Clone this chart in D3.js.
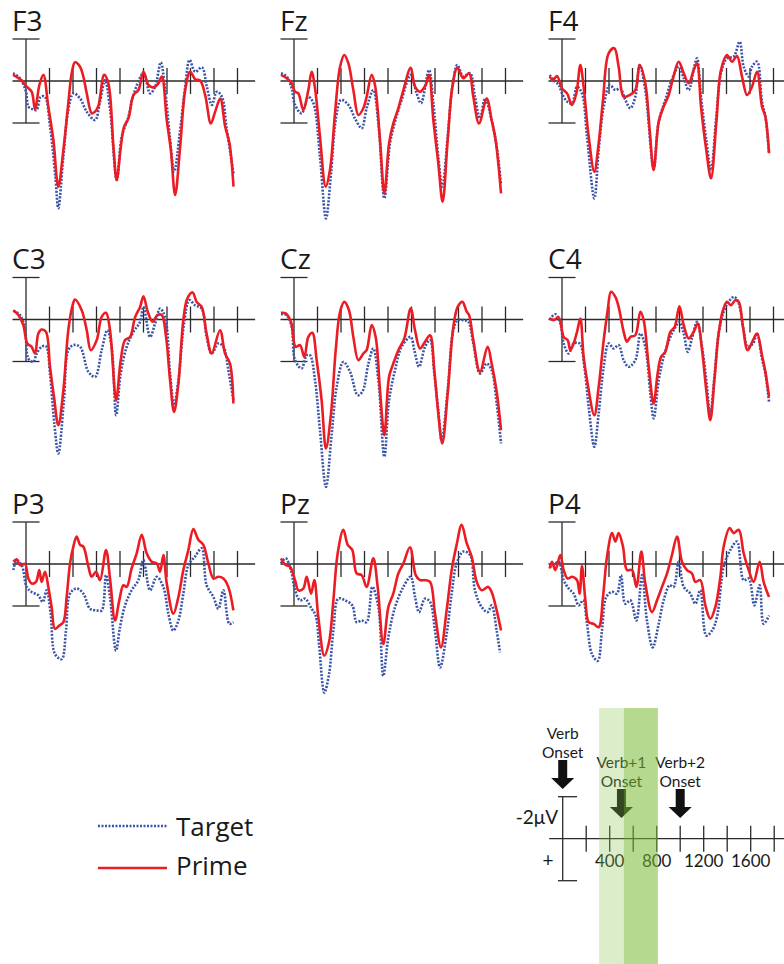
<!DOCTYPE html>
<html>
<head>
<meta charset="utf-8">
<script src="https://cdn.jsdelivr.net/npm/d3@7"></script>
<style>
body { margin: 0; background: #fff; }
svg text { font-family: "Open Sans", sans-serif; fill: #1a1a1a; }
svg text.key { font-family: Lato, "Open Sans", sans-serif; }
</style>
</head>
<body>
<svg id="chart" width="784" height="964"></svg>
<script>
// electrode layout, read row by row
const electrodes = ["F3", "Fz", "F4", "C3", "Cz", "C4", "P3", "Pz", "P4"];

// [time ms, amplitude µV]  (negative plotted up)
const f3Target = [[-110,-0.37],[-50,-0.13],[0,0.51],[20,1.22],[60,1.35],[90,1.38],[125,0.75],[160,0.75],[205,2.17],[250,4.56],[275,6.06],[318,3.6],[360,1.38],[403,0.59],[460,0.83],[517,1.46],[588,1.86],[630,0.98],[673,-0.05],[716,1.38],[772,4.71],[815,2.65],[872,1.7],[914,0.67],[1000,-0.37],[1056,0.59],[1099,0.27],[1147,-0.89],[1184,0.43],[1227,2.81],[1261,4.32],[1312,2.33],[1355,0.27],[1392,-1.0],[1440,-0.44],[1497,-0.65],[1539,0.27],[1582,1.14],[1624,0.51],[1667,0.75],[1709,2.33],[1766,4.4]];
const f3Prime = [[-110,-0.29],[-50,-0.08],[6,0.27],[48,0.51],[77,1.35],[114,0.19],[148,-0.29],[190,1.22],[233,2.81],[275,5.03],[318,3.29],[360,1.06],[389,-0.37],[417,-0.89],[460,-0.68],[488,-0.21],[517,0.59],[560,1.54],[588,1.46],[616,1.19],[665,-0.29],[701,0.11],[744,3.13],[772,4.71],[807,3.13],[835,2.17],[872,1.78],[914,0.67],[957,0.43],[1000,-0.44],[1042,0.19],[1085,0.3],[1127,0.11],[1156,-0.21],[1198,1.86],[1233,3.29],[1269,5.43],[1312,3.13],[1355,0.43],[1397,-0.44],[1440,-0.08],[1482,-0.02],[1525,0.67],[1573,2.02],[1610,1.46],[1653,0.83],[1695,2.17],[1732,2.97],[1766,5.03]];

const fzTarget = [[-111,-0.37],[-62,-0.21],[-20,0.35],[9,1.14],[65,1.54],[122,0.75],[165,1.06],[221,3.6],[272,6.54],[315,4.4],[355,1.86],[400,0.9],[463,1.14],[519,1.78],[576,2.25],[618,1.3],[675,0.43],[718,2.02],[769,5.59],[817,2.97],[860,1.94],[916,0.9],[993,-0.29],[1044,0.59],[1081,1.06],[1149,-0.52],[1186,1.06],[1228,3.6],[1262,5.03],[1308,2.65],[1348,0.27],[1390,-0.76],[1441,-0.21],[1498,-0.37],[1540,0.75],[1583,1.78],[1626,0.83],[1682,1.86],[1725,3.13],[1762,4.95]];
const fzPrime = [[-111,-0.29],[-62,-0.13],[-20,0.11],[9,0.51],[37,0.59],[79,1.38],[122,0.43],[150,-0.44],[179,0.35],[221,2.65],[270,5.03],[306,4.24],[349,1.54],[392,-0.68],[428,-1.24],[463,-0.84],[505,0.43],[548,1.62],[590,1.3],[618,0.75],[661,-0.29],[689,0.19],[732,2.81],[769,5.35],[809,2.97],[845,2.02],[888,1.3],[931,0.43],[993,-0.63],[1030,0.27],[1072,0.51],[1121,0.19],[1149,-0.29],[1186,1.86],[1228,3.92],[1265,5.75],[1308,2.81],[1348,0.27],[1390,-0.63],[1441,-0.13],[1490,-0.37],[1526,0.75],[1575,2.02],[1640,0.83],[1682,1.86],[1716,2.81],[1762,5.35]];

const f4Target = [[-105,-0.29],[-71,-0.05],[-28,0.19],[0,0.59],[43,0.98],[85,1.06],[128,0.27],[170,0.59],[213,2.65],[275,5.59],[312,3.29],[355,1.22],[406,0.19],[454,0.43],[496,0.35],[539,0.9],[582,1.3],[624,0.75],[661,-0.76],[709,0.43],[780,4.16],[823,1.94],[879,0.9],[945,-0.21],[993,-0.68],[1036,-0.13],[1078,0.43],[1126,-0.68],[1149,-1.08],[1183,0.75],[1228,2.81],[1268,4.24],[1313,1.7],[1353,-0.37],[1404,-1.08],[1461,-1.16],[1512,-1.87],[1546,-0.68],[1589,-0.21],[1617,-0.68],[1660,-0.92],[1702,0.98],[1731,1.7],[1762,3.44]];
const f4Prime = [[-105,-0.21],[-77,-0.05],[-43,-0.24],[0,0.35],[43,0.59],[85,1.14],[122,0.59],[156,-0.76],[184,0.27],[227,2.65],[275,4.32],[312,2.97],[349,0.9],[397,-1.32],[445,-1.56],[482,-0.68],[525,0.75],[576,0.67],[624,0.43],[661,-0.76],[709,0.11],[746,2.33],[780,4.24],[823,1.94],[865,1.22],[908,0.67],[945,-0.13],[993,-0.92],[1036,-0.37],[1078,0.11],[1121,-0.52],[1149,-0.84],[1183,1.22],[1228,3.29],[1268,4.63],[1313,2.02],[1353,-0.52],[1404,-1.24],[1447,-0.92],[1489,-1.19],[1532,-0.21],[1575,0.67],[1617,0.27],[1660,-0.44],[1702,1.22],[1731,1.7],[1762,3.44]];

const c3Target = [[-108,-0.41],[-51,-0.21],[-9,0.43],[20,1.86],[62,2.02],[91,1.62],[133,1.3],[170,1.27],[204,2.57],[241,4.95],[275,6.38],[323,3.84],[360,1.46],[403,1.22],[460,1.3],[531,2.49],[588,2.73],[644,1.46],[692,0.51],[729,1.3],[767,4.56],[806,2.57],[857,1.3],[914,0.59],[971,0.11],[1000,-0.6],[1056,0.83],[1099,0.19],[1141,-0.52],[1183,-0.13],[1226,2.57],[1260,4.08],[1297,2.89],[1345,0.19],[1390,-0.92],[1438,-0.68],[1495,-0.52],[1537,0.83],[1580,1.62],[1637,1.14],[1680,1.3],[1722,2.41],[1765,3.84]];
const c3Prime = [[-108,-0.44],[-65,-0.21],[-23,0.27],[11,1.14],[48,1.3],[77,1.62],[105,0.67],[133,0.48],[170,0.59],[204,2.25],[238,3.68],[275,5.03],[318,3.37],[360,0.51],[397,-0.68],[417,-0.95],[474,-0.44],[517,0.51],[551,1.46],[602,0.98],[644,-0.13],[681,-0.32],[715,0.51],[767,3.84],[806,1.94],[843,0.98],[886,0.83],[928,-0.1],[971,-0.6],[1000,-1.11],[1036,-0.37],[1078,0.11],[1118,-0.21],[1155,-0.21],[1192,0.83],[1226,2.89],[1260,4.4],[1297,3.05],[1339,0.03],[1373,-1.0],[1418,-1.29],[1452,-0.84],[1495,-0.6],[1537,0.67],[1580,1.62],[1651,0.51],[1694,1.62],[1736,2.1],[1765,4.0]];

const czTarget = [[-111,-0.25],[-62,-0.21],[-20,0.35],[9,1.94],[65,2.33],[108,1.7],[136,1.7],[179,2.89],[221,5.27],[272,7.97],[321,5.43],[363,3.21],[420,2.02],[477,2.49],[542,3.6],[582,3.44],[633,2.1],[675,1.38],[718,2.89],[769,6.54],[809,3.84],[860,2.41],[916,1.3],[993,0.83],[1024,1.46],[1064,2.25],[1115,1.3],[1158,0.98],[1194,2.57],[1228,4.32],[1257,5.75],[1308,3.37],[1356,0.51],[1393,0.03],[1441,0.03],[1483,0.11],[1526,1.14],[1583,2.57],[1640,2.1],[1682,2.41],[1725,4.0],[1762,5.9]];
const czPrime = [[-111,-0.32],[-71,-0.29],[-26,0.11],[14,1.3],[51,1.22],[88,1.78],[122,0.83],[156,0.63],[193,1.94],[235,3.84],[272,6.14],[315,4.48],[355,1.46],[392,-0.37],[428,-0.84],[468,-0.44],[505,0.83],[548,1.94],[590,1.62],[618,1.46],[661,0.27],[695,0.83],[732,3.37],[769,5.51],[809,2.73],[845,2.1],[888,1.46],[939,0.9],[993,-0.52],[1030,0.51],[1072,1.38],[1115,1.06],[1158,0.75],[1194,2.41],[1228,4.48],[1262,5.9],[1308,3.52],[1356,0.35],[1393,-0.6],[1433,-0.84],[1470,-0.37],[1490,-0.21],[1526,0.98],[1583,2.49],[1648,1.3],[1682,2.1],[1725,3.44],[1762,5.27]];

const c4Target = [[-105,0.0],[-57,-0.25],[-14,0.19],[14,1.14],[57,1.62],[99,1.14],[150,1.14],[190,2.25],[227,4.16],[275,6.06],[312,4.48],[355,2.25],[397,1.14],[440,1.38],[482,1.22],[525,1.94],[567,2.25],[624,1.94],[667,0.67],[709,1.3],[752,3.52],[780,4.71],[823,2.89],[865,1.78],[922,0.83],[959,0.43],[999,0.11],[1036,0.67],[1070,1.54],[1106,0.9],[1149,0.11],[1192,1.3],[1228,2.89],[1262,4.48],[1297,2.73],[1333,0.67],[1376,-0.37],[1418,-0.84],[1466,-1.08],[1504,-0.76],[1546,0.51],[1580,1.3],[1626,1.14],[1660,0.67],[1702,1.86],[1731,2.57],[1762,3.92]];
const c4Prime = [[-105,-0.05],[-71,0.03],[-28,-0.1],[14,0.83],[48,0.98],[71,1.46],[99,1.14],[128,0.59],[156,-0.05],[184,1.78],[218,3.05],[275,4.56],[312,3.21],[355,0.98],[389,-0.44],[417,-1.32],[454,-1.08],[482,-0.6],[525,0.59],[553,1.06],[582,0.83],[624,0.75],[667,-0.37],[695,0.03],[738,2.25],[780,4.0],[814,2.57],[843,1.78],[879,1.54],[922,0.59],[959,0.35],[999,-0.63],[1036,0.27],[1078,0.9],[1121,0.59],[1155,0.19],[1192,1.46],[1228,3.37],[1262,4.79],[1297,2.89],[1333,0.67],[1370,-0.44],[1404,-0.84],[1438,-0.68],[1475,-0.92],[1504,-0.84],[1540,0.35],[1580,1.46],[1626,0.98],[1660,0.67],[1702,1.7],[1731,2.49],[1762,3.68]];

const p3Target = [[-108,0.29],[-79,-0.16],[-37,0.05],[6,1.09],[48,1.33],[105,1.49],[142,1.81],[176,1.25],[210,2.37],[247,4.29],[304,4.53],[340,3.17],[375,1.41],[431,1.17],[488,1.41],[545,2.13],[602,2.21],[644,2.21],[681,0.53],[715,1.57],[766,4.13],[800,3.01],[843,1.97],[899,1.25],[956,0.77],[999,-0.19],[1056,1.25],[1113,0.61],[1169,1.09],[1212,2.37],[1254,3.17],[1297,2.69],[1339,1.41],[1382,0.05],[1438,-0.35],[1495,-0.75],[1537,1.01],[1595,1.57],[1637,2.13],[1680,1.25],[1731,2.85],[1765,2.77]];
const p3Prime = [[-108,-0.11],[-79,-0.22],[-51,0.05],[-9,0.0],[20,0.69],[48,0.93],[85,0.85],[113,0.29],[133,0.85],[162,0.37],[190,1.09],[218,2.05],[247,3.09],[284,2.93],[318,2.77],[346,1.57],[375,-0.03],[403,-0.83],[431,-1.31],[460,-0.91],[488,-0.83],[531,0.13],[559,0.61],[596,0.37],[630,0.77],[681,-0.67],[715,0.69],[758,2.69],[794,1.73],[829,1.01],[857,1.09],[899,0.21],[942,-0.51],[985,-1.39],[1027,-0.51],[1070,-0.11],[1113,-0.03],[1141,0.37],[1169,-0.43],[1198,0.93],[1254,2.37],[1297,1.57],[1339,0.29],[1382,-0.67],[1424,-1.66],[1467,-1.15],[1509,-0.91],[1552,-0.03],[1595,0.69],[1637,0.61],[1680,0.69],[1722,1.09],[1765,2.21]];

const pzTarget = [[-111,-0.03],[-71,-0.27],[-26,0.29],[9,1.25],[51,1.73],[94,1.65],[150,2.13],[184,2.45],[213,3.81],[258,6.13],[298,5.25],[335,3.17],[377,1.65],[434,1.73],[496,1.97],[533,2.77],[576,2.69],[618,2.77],[667,1.09],[718,2.05],[760,5.33],[803,3.49],[860,2.05],[931,1.09],[993,0.61],[1030,1.57],[1064,2.29],[1115,1.65],[1158,1.81],[1200,3.17],[1243,4.93],[1299,3.33],[1342,1.41],[1384,-0.03],[1441,-0.59],[1498,-0.43],[1540,1.25],[1597,2.05],[1648,2.29],[1682,1.97],[1725,3.17],[1753,4.21]];
const pzPrime = [[-111,-0.27],[-71,0.05],[-34,0.13],[9,0.77],[37,1.25],[79,1.17],[108,0.61],[145,1.41],[173,0.77],[207,2.53],[258,4.37],[298,3.73],[335,1.73],[372,-0.51],[420,-1.63],[457,-0.91],[496,-0.67],[533,0.45],[576,0.53],[618,1.09],[675,-0.27],[712,1.09],[760,3.81],[803,2.05],[845,1.41],[888,0.45],[931,-0.03],[987,-0.8],[1036,0.53],[1072,0.77],[1115,0.77],[1158,0.85],[1200,2.37],[1251,3.97],[1299,2.21],[1342,0.29],[1384,-0.91],[1427,-1.87],[1470,-0.99],[1512,-0.35],[1555,0.85],[1597,1.25],[1654,1.09],[1682,1.33],[1725,2.21],[1762,3.17]];

const p4Target = [[-105,0.13],[-71,0.05],[-28,-0.11],[14,0.77],[57,1.17],[99,1.41],[142,1.97],[179,1.73],[213,2.85],[255,4.29],[304,4.61],[340,3.17],[377,1.57],[426,1.33],[468,1.41],[502,0.53],[539,1.89],[582,1.73],[633,2.69],[681,0.53],[723,2.69],[772,3.97],[823,2.85],[865,1.73],[916,1.01],[950,1.09],[993,-0.11],[1036,1.09],[1092,1.41],[1135,1.89],[1177,1.25],[1228,3.41],[1277,3.17],[1319,2.53],[1376,0.13],[1433,-0.67],[1489,-1.07],[1546,0.77],[1589,0.69],[1637,1.97],[1682,1.01],[1716,2.85],[1762,2.45]];
const p4Prime = [[-105,0.21],[-85,-0.11],[-57,0.29],[-14,-0.43],[14,0.29],[48,0.69],[85,0.61],[128,0.77],[150,1.41],[170,0.1],[199,1.73],[227,2.77],[270,2.85],[312,3.01],[349,1.57],[383,-0.35],[426,-1.47],[454,-1.07],[482,-1.47],[519,-0.83],[553,0.29],[596,0.29],[633,1.09],[675,-0.59],[709,0.93],[766,2.29],[809,1.73],[851,1.09],[894,0.45],[936,-0.43],[979,-1.31],[1021,-0.11],[1064,0.29],[1106,0.45],[1135,0.85],[1177,0.77],[1220,1.97],[1262,2.61],[1305,2.05],[1348,0.61],[1376,-0.83],[1427,-1.71],[1461,-1.47],[1504,-1.63],[1546,-0.51],[1589,0.29],[1631,0.85],[1682,-0.11],[1716,0.85],[1762,1.57]];

const targetSeries = [f3Target, fzTarget, f4Target, c3Target, czTarget, c4Target, p3Target, pzTarget, p4Target];
const primeSeries = [f3Prime, fzPrime, f4Prime, c3Prime, czPrime, c4Prime, p3Prime, pzPrime, p4Prime];

const tickTimes = [200, 400, 600, 800, 1000, 1200, 1400, 1600, 1800];
const scaleLabels = [400, 800, 1200, 1600];
const onsetTimes = [0, 500, 1000];
const onsetNames = ["Verb", "Verb+1", "Verb+2"];
const bandRanges = [[310, 520], [520, 810]];

const svg = d3.select("#chart");

const colX = [26, 294, 562];
const rowZero = [81, 319.5, 564];
const spanPx = 9 * 23.5;   // 0..1800 ms
const uvPx = 42;           // 2 µV
const axisColor = "#2a2a2a";
const redColor = "#ec1c24";
const blueColor = "#3a54a6";

function drawFrame(g, x, y, capL, capR, lineEnd) {
	// baseline
	g.append("line")
		.attr("x1", x(-115)).attr("x2", lineEnd)
		.attr("y1", y(0)).attr("y2", y(0))
		.attr("stroke", axisColor).attr("stroke-width", 1.3);
	// vertical amplitude bar with caps
	g.append("line")
		.attr("x1", x(0)).attr("x2", x(0))
		.attr("y1", y(-2)).attr("y2", y(2))
		.attr("stroke", axisColor).attr("stroke-width", 1.3);
	[-2, 2].forEach(v => {
		g.append("line")
			.attr("x1", x(capL)).attr("x2", x(capR))
			.attr("y1", y(v)).attr("y2", y(v))
			.attr("stroke", axisColor).attr("stroke-width", 1.3);
	});
	g.selectAll(".tick")
		.data(tickTimes)
		.enter()
		.append("line")
		.attr("x1", d => x(d)).attr("x2", d => x(d))
		.attr("y1", y(0) - 13).attr("y2", y(0) + 13)
		.attr("stroke", axisColor).attr("stroke-width", 1.3);
}

electrodes.forEach((name, i) => {
	const cx = colX[i % 3];
	const z = rowZero[Math.floor(i / 3)];

	const x = d3.scaleLinear().domain([0, 1800]).range([cx, cx + spanPx]);
	const y = d3.scaleLinear().domain([-2, 0]).range([z - uvPx, z]);

	const g = svg.append("g");
	drawFrame(g, x, y, -115, 115, x(1950));

	g.append("text")
		.attr("x", cx - 14)
		.attr("y", z - 50.5)
		.attr("font-size", 28)
		.text(name);

	const line = d3.line()
		.x(d => x(d[0]))
		.y(d => y(d[1]))
		.curve(d3.curveCatmullRom.alpha(0.5));

	g.append("path")
		.attr("d", line(targetSeries[i]))
		.attr("fill", "none")
		.attr("stroke", blueColor)
		.attr("stroke-width", 2.6)
		.attr("stroke-dasharray", "2,1.5");

	g.append("path")
		.attr("d", line(primeSeries[i]))
		.attr("fill", "none")
		.attr("stroke", redColor)
		.attr("stroke-width", 2.6)
		.attr("stroke-linejoin", "round");
});

// legend
const legend = svg.append("g");
legend.append("line")
	.attr("x1", 98).attr("x2", 167).attr("y1", 826).attr("y2", 826)
	.attr("stroke", blueColor).attr("stroke-width", 2.4)
	.attr("stroke-dasharray", "2,1.5");
legend.append("text").attr("x", 176).attr("y", 836).attr("font-size", 26).text("Target");
legend.append("line")
	.attr("x1", 98).attr("x2", 167).attr("y1", 868).attr("y2", 868)
	.attr("stroke", redColor).attr("stroke-width", 2.6);
legend.append("text").attr("x", 176).attr("y", 875).attr("font-size", 26).text("Prime");

// scale / timing key
const sx = d3.scaleLinear().domain([0, 1800]).range([562.7, 562.7 + spanPx]);
const sy = d3.scaleLinear().domain([-2, 0]).range([838.7 - uvPx, 838.7]);
const key = svg.append("g");
drawFrame(key, sx, sy, -40, 122, 784);

key.selectAll(".lab")
	.data(scaleLabels)
	.enter()
	.append("text")
	.attr("class", "key")
	.attr("x", d => sx(d))
	.attr("y", sy(0) + 28)
	.attr("text-anchor", "middle")
	.attr("font-size", 17)
	.text(d => d);

key.append("text").attr("class", "key").attr("x", 558).attr("y", 824).attr("text-anchor", "end")
	.attr("font-size", 19).text("-2\u03bcV");
key.append("text").attr("class", "key").attr("x", 548).attr("y", 867).attr("text-anchor", "middle")
	.attr("font-size", 19).text("+");

function arrow(cx, top, tip) {
	return `M${cx - 4.5},${top} H${cx + 4.5} V${tip - 11} H${cx + 11.5} L${cx},${tip} L${cx - 11.5},${tip - 11} H${cx - 4.5} Z`;
}

onsetTimes.forEach((t, i) => {
	const ax = sx(t);
	const base = i === 0 ? 739 : 768;
	key.append("text").attr("class", "key").attr("x", ax).attr("y", base).attr("text-anchor", "middle")
		.attr("font-size", 15.5).text(onsetNames[i]);
	key.append("text").attr("class", "key").attr("x", ax).attr("y", base + 19).attr("text-anchor", "middle")
		.attr("font-size", 15.5).text("Onset");
	const top = base + 21;
	key.append("path").attr("d", arrow(ax, top, top + 29)).attr("fill", "#111");
});

// analysis windows, laid over the key
key.selectAll(".band")
	.data(bandRanges)
	.enter()
	.append("rect")
	.attr("x", d => sx(d[0]))
	.attr("width", d => sx(d[1]) - sx(d[0]))
	.attr("y", 708)
	.attr("height", 964 - 708)
	.attr("fill", (d, i) => i === 0 ? "rgba(140,195,80,0.3)" : "rgba(120,185,50,0.55)");
</script>
</body>
</html>
